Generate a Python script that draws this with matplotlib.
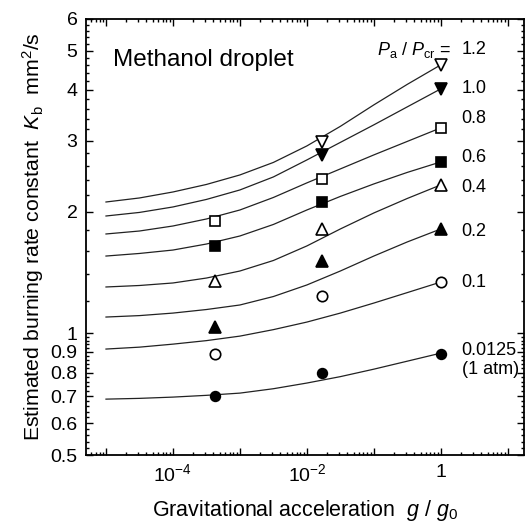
"""Estimated burning rate constant of a methanol droplet vs gravity."""

import matplotlib

matplotlib.use("Agg")
import matplotlib.pyplot as plt
import numpy as np
from matplotlib.ticker import FixedLocator, NullFormatter

plt.rcParams["font.family"] = ["Liberation Sans", "DejaVu Sans"]
plt.rcParams["mathtext.fontset"] = "custom"
plt.rcParams["mathtext.rm"] = "Liberation Sans"
plt.rcParams["mathtext.it"] = "Liberation Sans:italic"

# fitted curves, read every half decade of g/g0 (1e-5 ... 1)
curve_g = [1e-5, 3.16e-5, 1e-4, 3.16e-4, 1e-3, 3.16e-3,
           1e-2, 3.16e-2, 1e-1, 3.16e-1, 1.0]
curve_k = [
    [2.114, 2.163, 2.238, 2.336, 2.466, 2.648, 2.909, 3.252, 3.675, 4.131, 4.616],  # 1.2
    [1.952, 1.992, 2.055, 2.145, 2.264, 2.438, 2.686, 2.968, 3.280, 3.634, 4.026],  # 1.0
    [1.762, 1.792, 1.844, 1.919, 2.020, 2.169, 2.357, 2.552, 2.764, 2.985, 3.224],  # 0.8
    [1.554, 1.577, 1.608, 1.664, 1.742, 1.860, 2.020, 2.182, 2.343, 2.502, 2.656],  # 0.6
    [1.303, 1.314, 1.333, 1.371, 1.427, 1.515, 1.646, 1.813, 1.986, 2.157, 2.330],  # 0.4
    [1.098, 1.107, 1.123, 1.146, 1.176, 1.234, 1.318, 1.427, 1.554, 1.684, 1.813],  # 0.2
    [0.915, 0.925, 0.941, 0.960, 0.985, 1.022, 1.067, 1.123, 1.189, 1.262, 1.340],  # 0.1
    [0.688, 0.691, 0.696, 0.703, 0.712, 0.730, 0.754, 0.782, 0.816, 0.854, 0.894],  # 0.0125
]

# measured points
g_points = [4.2e-4, 1.7e-2, 1.0]
pressure_labels = ["1.2", "1.0", "0.8", "0.6", "0.4", "0.2", "0.1", "0.0125"]
k_points = [
    [None, 2.98, 4.61],
    [None, 2.77, 4.03],
    [1.90, 2.41, 3.22],
    [1.65, 2.11, 2.65],
    [1.35, 1.81, 2.33],
    [1.04, 1.51, 1.81],
    [0.89, 1.24, 1.34],
    [0.70, 0.80, 0.89],
]
label_y = [5.03, 4.03, 3.41, 2.73, 2.30, 1.79, 1.34, 0.905]

markers = [
    dict(marker="v", mfc="white", ms=9),
    dict(marker="v", mfc="black", ms=8),
    dict(marker="s", mfc="white", ms=7.5),
    dict(marker="s", mfc="black", ms=7),
    dict(marker="^", mfc="white", ms=9),
    dict(marker="^", mfc="black", ms=8),
    dict(marker="o", mfc="white", ms=7.5),
    dict(marker="o", mfc="black", ms=7),
]

fig = plt.figure(figsize=(5.27, 5.22), dpi=100)
ax = fig.add_axes([0.163, 0.128, 0.831, 0.836])
ax.set_xscale("log")
ax.set_yscale("log")

for k in curve_k:
    ax.plot(curve_g, k, color="#222222", lw=0.9, zorder=2)

for pts, style in zip(k_points, markers):
    gs = [g for g, v in zip(g_points, pts) if v is not None]
    vs = [v for v in pts if v is not None]
    ax.plot(gs, vs, ls="none", mec="black", mew=1.2, zorder=3, **style)

for lab, y in zip(pressure_labels, label_y):
    ax.text(2.05, y, lab, fontsize=13, va="center", ha="left")
ax.text(1.45, 5.03, r"$P_\mathrm{a}$ / $P_\mathrm{cr}$ =", fontsize=13,
        va="center", ha="right")
ax.text(2.05, 0.816, "(1 atm)", fontsize=13, va="center", ha="left")

ax.text(0.062, 0.906, "Methanol droplet", fontsize=17.5, transform=ax.transAxes,
        va="center", ha="left")

ax.set_xlim(10 ** -5.3, 10 ** 1.24)
ax.set_ylim(0.5, 6)

decades = [1e-5, 1e-4, 1e-3, 1e-2, 1e-1, 1.0, 10.0]
ax.set_xticks(decades)
ax.set_xticklabels(["", r"$10^{-4}$", "", r"$10^{-2}$", "", "1", ""])
minor_x = [m * d for d in [1e-6] + decades for m in range(2, 10)]
ax.xaxis.set_minor_locator(FixedLocator(minor_x))
ax.xaxis.set_minor_formatter(NullFormatter())

y_major = [0.5, 0.6, 0.7, 0.8, 0.9, 1, 2, 3, 4, 5, 6]
ax.set_yticks(y_major)
ax.set_yticklabels(["0.5", "0.6", "0.7", "0.8", "0.9", "1", "2", "3", "4", "5", "6"])
minor_y = list(np.arange(0.52, 1.0, 0.02)) + list(np.arange(1.2, 6.0, 0.2))
ax.yaxis.set_minor_locator(FixedLocator(minor_y))
ax.yaxis.set_minor_formatter(NullFormatter())

ax.tick_params(which="both", direction="in", top=True, right=True, width=1)
ax.tick_params(which="major", length=5, labelsize=14, pad=6)
ax.tick_params(which="minor", length=2.5)
for s in ax.spines.values():
    s.set_linewidth(1.3)

ax.set_xlabel(r"Gravitational acceleration  $g$ / $g_0$", fontsize=15.5, labelpad=9)
ax.set_ylabel(r"Estimated burning rate constant  $K_\mathrm{b}$  mm$^2$/s",
              fontsize=15.3, labelpad=3)

fig.savefig("out.png", dpi=100)
